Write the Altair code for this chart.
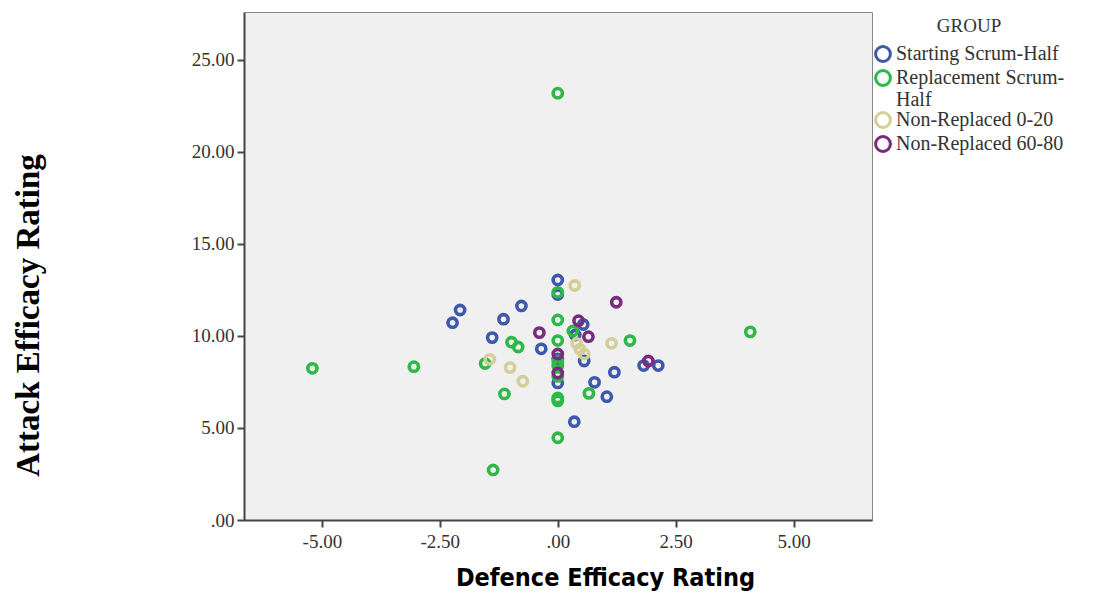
import altair as alt
import pandas as pd

groups = ["Starting Scrum-Half", "Replacement Scrum-Half", "Non-Replaced 0-20", "Non-Replaced 60-80"]
colors = ["#3E58AC", "#2EB848", "#D4CF97", "#7A2A7C"]

starting_x = [-2.07, -2.23, -0.77, -1.15, -1.39, -0.35, 0.0, 0.0, 0.54, 0.37, 0.56, 0.0, 0.0, 0.78, 1.20, 1.82, 2.13, 1.04, 0.35]
starting_y = [11.41, 10.72, 11.63, 10.91, 9.91, 9.30, 13.04, 12.25, 10.62, 10.05, 8.64, 8.75, 7.45, 7.48, 8.03, 8.39, 8.39, 6.70, 5.34]

replacement_x = [-5.20, -3.05, -0.98, -0.84, -1.54, -1.13, -1.37, 0.0, 0.0, 0.0, 0.32, 0.0, 1.53, 0.0, 0.0, 0.0, 0.0, 0.0, 0.66, 0.0, 4.08]
replacement_y = [8.24, 8.33, 9.66, 9.40, 8.50, 6.85, 2.72, 23.19, 12.37, 10.87, 10.27, 9.75, 9.75, 8.60, 8.37, 7.80, 6.63, 6.47, 6.88, 4.47, 10.22]

nr020_x = [-1.44, -1.01, -0.74, 0.36, 0.40, 1.14, 0.47, 0.56]
nr020_y = [8.73, 8.28, 7.54, 12.74, 9.60, 9.60, 9.28, 9.02]

nr6080_x = [-0.39, 1.24, 0.44, 0.65, 0.0, 0.0, 1.92]
nr6080_y = [10.18, 11.83, 10.83, 9.96, 9.02, 7.99, 8.64]

x_ticks = [-5.0, -2.5, 0.0, 2.5, 5.0]
y_ticks = [0, 5, 10, 15, 20, 25]

rows = []
for g, xs, ys in [(groups[0], starting_x, starting_y), (groups[1], replacement_x, replacement_y),
                  (groups[2], nr020_x, nr020_y), (groups[3], nr6080_x, nr6080_y)]:
    for a, b in zip(xs, ys):
        rows.append({"defence": a, "attack": b, "group": g})
df = pd.DataFrame(rows)

label_expr = "datum.value == 0 ? '.00' : replace(format(datum.value, '.2f'), '\u2212', '-')"

chart = alt.Chart(df).mark_point(filled=False, size=85, strokeWidth=3.6, opacity=1).encode(
    x=alt.X("defence:Q", scale=alt.Scale(domain=[-6.65, 6.66], nice=False, zero=False),
            axis=alt.Axis(title="Defence Efficacy Rating", values=x_ticks, labelExpr=label_expr,
                          grid=False, tickSize=7, tickWidth=2, tickColor="#444", domainColor="#444", domainWidth=2,
                          labelFont="Liberation Serif", labelFontSize=19, labelColor="#333", labelPadding=5,
                          titleFont="DejaVu Sans Condensed, Liberation Sans, sans-serif", titleFontSize=25,
                          titleFontWeight="bold",
                          titleColor="#000", titleX=361, titleY=57, titleBaseline="middle")),
    y=alt.Y("attack:Q", scale=alt.Scale(domain=[0, 27.6], nice=False, zero=False),
            axis=alt.Axis(title="Attack Efficacy Rating", values=y_ticks, labelExpr=label_expr,
                          grid=False, tickSize=7, tickWidth=2, tickColor="#444", domainColor="#444", domainWidth=2,
                          labelFont="Liberation Serif", labelFontSize=19, labelColor="#333", labelPadding=3,
                          titleFont="Liberation Serif", titleFontSize=33, titleFontWeight="bold",
                          titleColor="#000", titleX=-216, titleY=303, titleAngle=270, titleBaseline="middle")),
    color=alt.Color("group:N", scale=alt.Scale(domain=groups, range=colors),
                    legend=alt.Legend(title="GROUP", orient="none", legendX=629, legendY=5,
                                      titleFont="Liberation Serif", titleFontSize=19, titleFontWeight="normal",
                                      titleColor="#333", titleAnchor="middle", titlePadding=8,
                                      labelFont="Liberation Serif", labelFontSize=20, labelColor="#333",
                                      labelOffset=3, symbolType="circle", symbolSize=220, symbolStrokeWidth=3,
                                      rowPadding=-7, padding=0, labelLimit=300,
                                      labelExpr="datum.label == 'Replacement Scrum-Half' ? ['Replacement Scrum-', 'Half'] : datum.label")),
).properties(width=628, height=508, autosize=alt.AutoSizeParams(type="none"),
             padding={"left": 244, "top": 12, "right": 248, "bottom": 76}, background="white"
).configure_view(fill="#F0F0F0", stroke="#888", strokeWidth=1)

chart.save("out.html", embed_options={"renderer": "svg", "actions": False})
